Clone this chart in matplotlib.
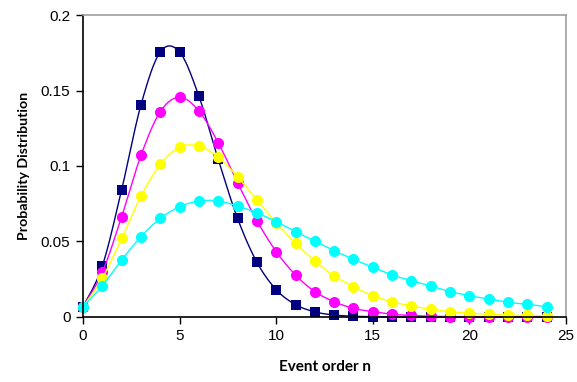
import numpy as np
import matplotlib
matplotlib.use('Agg')
import matplotlib.pyplot as plt

# event order n
n = list(range(25))

# valores
serie_navy = [0.0067, 0.0337, 0.0842, 0.1404, 0.1755, 0.1755, 0.1462, 0.1044, 0.0653, 0.0363,
              0.0181, 0.0082, 0.0034, 0.0013, 0.0005, 0.0002, 0.0001, 0.0, 0.0, 0.0,
              0.0, 0.0, 0.0, 0.0, 0.0]
serie_magenta = [0.0067, 0.0296, 0.0664, 0.1070, 0.1360, 0.1455, 0.1364, 0.1154, 0.0889, 0.0638,
                 0.0433, 0.0278, 0.0168, 0.0101, 0.0057, 0.0035, 0.0018, 0.0010, 0.0005, 0.0003,
                 0.0002, 0.0001, 0.0, 0.0, 0.0]
serie_yellow = [0.0067, 0.0256, 0.0520, 0.0800, 0.1010, 0.1124, 0.1132, 0.1057, 0.0929, 0.0775,
                0.0625, 0.0488, 0.0371, 0.0272, 0.0201, 0.0141, 0.0101, 0.0073, 0.0051, 0.0035,
                0.0024, 0.0018, 0.0013, 0.0010, 0.0008]
serie_cyan = [0.0067, 0.0207, 0.0377, 0.0532, 0.0653, 0.0730, 0.0768, 0.0768, 0.0735, 0.0690,
              0.0631, 0.0565, 0.0503, 0.0439, 0.0382, 0.0329, 0.0278, 0.0240, 0.0205, 0.0168,
              0.0141, 0.0119, 0.0097, 0.0084, 0.0068]

y_ticks = [0, 0.05, 0.1, 0.15, 0.2]
y_tick_labels = ['0', '0.05', '0.1', '0.15', '0.2']
x_ticks = [0, 5, 10, 15, 20, 25]


def suave(x, y, passos=20):
    # curva suave tipo Excel (Catmull-Rom) passando pelos pontos
    x = np.asarray(x, float)
    y = np.asarray(y, float)
    px = np.concatenate([[x[0]], x, [x[-1]]])
    py = np.concatenate([[y[0]], y, [y[-1]]])
    xs, ys = [], []
    t = np.linspace(0, 1, passos, endpoint=False)
    for i in range(1, len(px) - 2):
        p0, p1, p2, p3 = py[i - 1], py[i], py[i + 1], py[i + 2]
        q0, q1, q2, q3 = px[i - 1], px[i], px[i + 1], px[i + 2]
        for tt in t:
            t2, t3 = tt * tt, tt * tt * tt
            xs.append(0.5 * (2 * q1 + (-q0 + q2) * tt + (2 * q0 - 5 * q1 + 4 * q2 - q3) * t2 + (-q0 + 3 * q1 - 3 * q2 + q3) * t3))
            ys.append(0.5 * (2 * p1 + (-p0 + p2) * tt + (2 * p0 - 5 * p1 + 4 * p2 - p3) * t2 + (-p0 + 3 * p1 - 3 * p2 + p3) * t3))
    xs.append(x[-1])
    ys.append(y[-1])
    return xs, ys


fig = plt.figure(figsize=(5.77, 3.82), dpi=100)
ax = fig.add_axes([0.1438, 0.1702, 0.8372, 0.7905])

series = [
    (serie_navy, '#000080', 's'),
    (serie_magenta, '#ff00ff', 'o'),
    (serie_yellow, '#ffff00', 'o'),
    (serie_cyan, '#00ffff', 'o'),
]
for valores, cor, marcador in series:
    sx, sy = suave(n, valores)
    ax.plot(sx, sy, color=cor, lw=1.0, clip_on=False)
    ax.plot(n, valores, ls='none', marker=marcador, color=cor, ms=7.5 if marcador == 's' else 8,
            mew=0, clip_on=False)

ax.set_xlim(0, 25)
ax.set_ylim(0, 0.2)
ax.set_xticks(x_ticks)
ax.set_yticks(y_ticks)
ax.set_yticklabels(y_tick_labels)
ax.tick_params(direction='out', length=5, width=1, labelsize=11, colors='black', pad=4)
for lbl in ax.get_xticklabels() + ax.get_yticklabels():
    lbl.set_family('Liberation Sans')

ax.spines['left'].set_color('black')
ax.spines['bottom'].set_color('black')
ax.spines['top'].set_color('#a0a0a0')
ax.spines['right'].set_color('#a0a0a0')
for s in ax.spines.values():
    s.set_linewidth(1.2)

ax.set_xlabel('Event order n', family='Lato', fontweight='bold', fontsize=11, labelpad=12)
ax.set_ylabel('Probability Distribution', family='Lato', fontweight='bold', fontsize=10.2, labelpad=8)

fig.savefig('out.png', dpi=100)
